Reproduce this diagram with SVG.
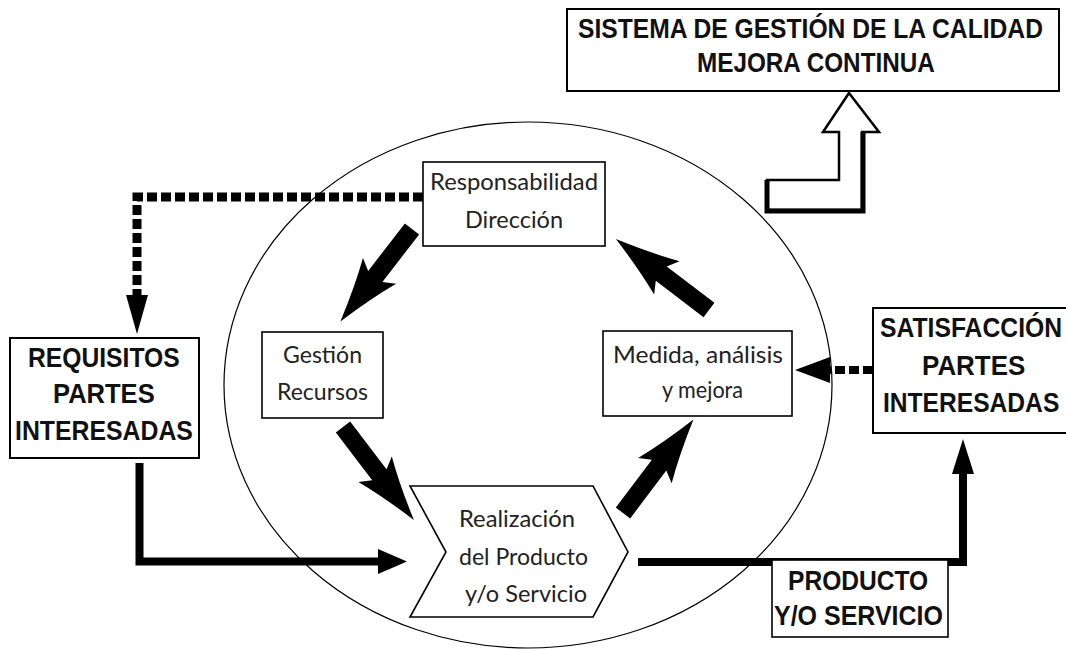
<svg xmlns="http://www.w3.org/2000/svg" width="1066" height="649" viewBox="0 0 1066 649">
<style>
.box{fill:#fff;stroke:#000;stroke-width:2}
.ibox{fill:#fff;stroke:#000;stroke-width:1.6}
.bold{font-family:"Liberation Sans",Arial,sans-serif;font-weight:bold;font-size:28px;fill:#111}
.lite{font-family:Lato,"Liberation Sans",sans-serif;font-weight:400;font-size:23px;fill:#222}
.line{fill:none;stroke:#000;stroke-width:8}
.dot{fill:none;stroke:#000;stroke-dasharray:10 4}
</style>
<defs>
<path id="bigArrow" d="M0,-9 L60,-9 L53,-21 Q80,-10 117,0 Q80,10 53,21 L60,9 L0,9 Z" fill="#000"/>
</defs>
<rect width="1066" height="649" fill="#fff"/>
<ellipse cx="528" cy="385" rx="304" ry="263" fill="none" stroke="#000" stroke-width="1.2"/>
<g id="connectors">
<path class="dot" d="M423,197 H137 V296" stroke-width="9"/>
<polygon points="126,295 148,295 137,334" fill="#000"/>
<path class="dot" d="M873,370 H829" stroke-width="8" stroke-dasharray="8 4"/>
<polygon points="830,357 830,383 795,370" fill="#000"/>
<path class="line" d="M139.5,463 V561.5 H380"/>
<polygon points="378,549 378,574 407,561.5" fill="#000"/>
<path class="line" d="M638,562 H963 V472" stroke-width="8"/>
<polygon points="952,474 974,474 963,439" fill="#000"/>
<use href="#bigArrow" transform="translate(412,229) rotate(127.75)"/>
<use href="#bigArrow" transform="translate(343,427) rotate(52.7)"/>
<use href="#bigArrow" transform="translate(623,513) rotate(-53)"/>
<use href="#bigArrow" transform="translate(709,310) rotate(-142.7)"/>
<polygon points="849,93 879,132 862,132 862,210 767,210 767,180 839,180 839,132 823,132" fill="#fff" stroke="#000" stroke-width="2.5" stroke-linejoin="miter"/>
<polyline points="767,180 767,211 863,211 863,132" fill="none" stroke="#000" stroke-width="5"/>
</g>
<g id="sistema">
<rect class="box" x="567" y="9" width="492" height="82"/>
<text class="bold" transform="translate(578,38) scale(0.82,1)" x="0" y="0" font-size="29" textLength="567" lengthAdjust="spacingAndGlyphs">SISTEMA DE GESTIÓN DE LA CALIDAD</text>
<text class="bold" transform="translate(697,72) scale(0.82,1)" x="0" y="0" font-size="29" textLength="290" lengthAdjust="spacingAndGlyphs">MEJORA CONTINUA</text>
</g>
<g id="requisitos">
<rect class="box" x="10" y="338" width="189" height="120"/>
<text class="bold" transform="translate(28,367) scale(0.82,1)" x="0" y="0" textLength="185" lengthAdjust="spacingAndGlyphs">REQUISITOS</text>
<text class="bold" transform="translate(53,403) scale(0.82,1)" x="0" y="0" textLength="124" lengthAdjust="spacingAndGlyphs">PARTES</text>
<text class="bold" transform="translate(15,440) scale(0.82,1)" x="0" y="0" textLength="217" lengthAdjust="spacingAndGlyphs">INTERESADAS</text>
</g>
<g id="satisfaccion">
<rect class="box" x="873" y="308" width="200" height="125"/>
<text class="bold" transform="translate(880,337) scale(0.82,1)" x="0" y="0" textLength="222" lengthAdjust="spacingAndGlyphs">SATISFACCIÓN</text>
<text class="bold" transform="translate(922,375) scale(0.82,1)" x="0" y="0" textLength="126" lengthAdjust="spacingAndGlyphs">PARTES</text>
<text class="bold" transform="translate(883,412) scale(0.82,1)" x="0" y="0" textLength="215" lengthAdjust="spacingAndGlyphs">INTERESADAS</text>
</g>
<g id="producto">
<rect class="ibox" x="772" y="560" width="176" height="77"/>
<text class="bold" transform="translate(788,590) scale(0.82,1)" x="0" y="0" font-size="27" textLength="171" lengthAdjust="spacingAndGlyphs">PRODUCTO</text>
<text class="bold" transform="translate(774,625) scale(0.82,1)" x="0" y="0" font-size="27" textLength="206" lengthAdjust="spacingAndGlyphs">Y/O SERVICIO</text>
</g>
<g id="responsabilidad">
<rect class="ibox" x="423" y="162" width="182" height="84"/>
<text class="lite" x="430" y="190" textLength="168" lengthAdjust="spacingAndGlyphs">Responsabilidad</text>
<text class="lite" x="465" y="228" textLength="98" lengthAdjust="spacingAndGlyphs">Dirección</text>
</g>
<g id="gestion">
<rect class="ibox" x="262" y="332" width="121" height="86"/>
<text class="lite" x="283" y="363" textLength="79" lengthAdjust="spacingAndGlyphs">Gestión</text>
<text class="lite" x="277" y="400" textLength="91" lengthAdjust="spacingAndGlyphs">Recursos</text>
</g>
<g id="medida">
<rect class="ibox" x="603" y="331" width="189" height="85"/>
<text class="lite" x="613" y="363" textLength="170" lengthAdjust="spacingAndGlyphs">Medida, análisis</text>
<text class="lite" x="662" y="398" textLength="81" lengthAdjust="spacingAndGlyphs">y mejora</text>
</g>
<g id="realizacion">
<polygon class="ibox" points="410,486 593,486 628,552 593,617 410,617 446,552"/>
<text class="lite" x="459" y="527" textLength="116" lengthAdjust="spacingAndGlyphs" font-size="24">Realización</text>
<text class="lite" x="459" y="565" textLength="129" lengthAdjust="spacingAndGlyphs" font-size="24">del Producto</text>
<text class="lite" x="465" y="602" textLength="122" lengthAdjust="spacingAndGlyphs" font-size="24">y/o Servicio</text>
</g>
</svg>
